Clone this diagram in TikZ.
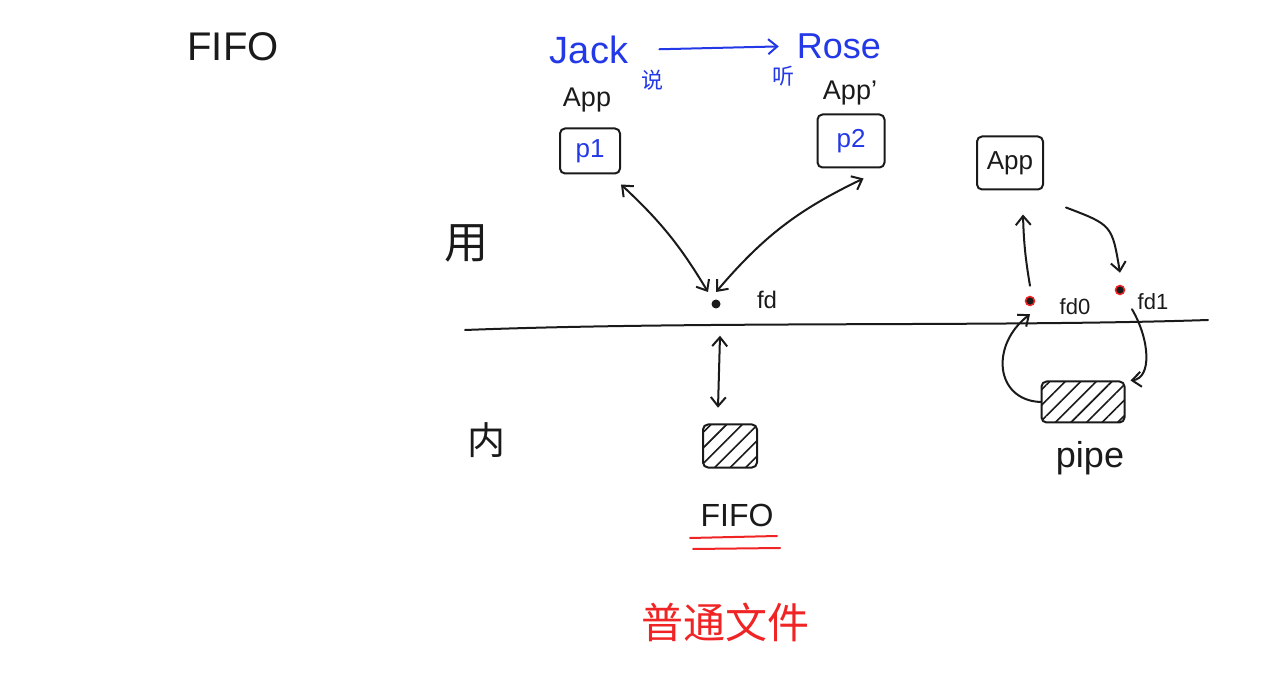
\documentclass[tikz,border=0pt]{standalone}
\usepackage{fontspec}
\setmainfont{Liberation Sans}
\newfontfamily\cjk{Noto Sans CJK SC}
\usetikzlibrary{arrows.meta,patterns.meta}
\definecolor{ink}{HTML}{1A1A1A}
\definecolor{blueink}{HTML}{2338E6}
\definecolor{redink}{HTML}{F02424}
\newcommand{\fs}[1]{\fontsize{#1}{#1}\selectfont}
\tikzset{
  stroke/.style={draw=ink, line width=2pt, line cap=round, line join=round},
  tip/.tip={Straight Barb[length=9pt,width=15pt,line width=2pt]},
  arr/.style={stroke, -tip},
  darr/.style={stroke, tip-tip},
  barr/.style={draw=blueink, line width=2pt, line cap=round, -tip},
  redline/.style={draw=redink, line width=2pt, line cap=round},
  lbl/.style={inner sep=0pt, text=ink},
  blbl/.style={inner sep=0pt, text=blueink},
  box/.style={stroke, rounded corners=5pt, inner sep=0pt},
  hatch/.style={box, pattern={Lines[angle=45,distance=11pt,line width=1.6pt]}, pattern color=ink},
  fddot/.style={circle, draw=redink, fill=ink, line width=1.5pt, minimum size=9pt, inner sep=0pt}
}
\begin{document}
\begin{tikzpicture}[x=1pt,y=-1pt]
\useasboundingbox (0,0) rectangle (1280,700);

% titles
\node[lbl, font=\fs{40}] (title) at (233,47) {FIFO};

% Jack -> Rose
\node[blbl, font=\fs{38}] (jack) at (589,50) {Jack};
\node[blbl, font=\fs{36}] (rose) at (839,46) {Rose};
\draw[barr, shorten <=31pt, shorten >=18pt] (jack.east) -- (rose.west);
\node[blbl, font=\cjk\fs{22}] (shuo) at (652,80) {说};
\node[blbl, font=\cjk\fs{22}] (ting) at (783,76) {听};

% apps
\node[lbl, font=\fs{27}] (app1) at (587,100) {App};
\node[lbl, font=\fs{27}] (app1b) at (850,93) {App'};
\node[box, minimum width=60pt, minimum height=45pt, text=blueink, font=\fs{26}] (p1) at (590,151) {p1};
\node[box, minimum width=67pt, minimum height=53pt, text=blueink, font=\fs{26}] (p2) at (851,141) {p2};

% user / kernel
\node[lbl, font=\cjk\fs{44}] (yong) at (466,243) {用};
\node[lbl, font=\cjk\fs{38}] (nei) at (486,440) {内};

% divider
\coordinate (L) at (465,330);
\coordinate (R) at (1208,320);
\draw[stroke] (L) .. controls (700,321) and (1000,327) .. (R);

% fd
\node[circle, fill=ink, minimum size=9pt, inner sep=0pt] (fd) at (716,304) {};
\node[lbl, font=\fs{24}] (fdl) at (767,300) {fd};
\draw[darr] ([shift={(0,10)}]p1.south east) to[bend left=8] ([shift={(-8,-12)}]fd.center);
\draw[darr] ([shift={(-22,10)}]p2.south east) to[bend right=12] ([shift={(0,-12)}]fd.center);

% FIFO file
\node[hatch, minimum width=54pt, minimum height=43pt] (fifo) at (730,446) {};
\draw[darr] ([shift={(-10,-88)}]fifo.north) -- ([shift={(-12,-16)}]fifo.north);
\node[lbl, font=\fs{32}] (fifol) at (737,515) {FIFO};
\draw[redline] ([shift={(-47,23)}]fifol.center) -- ([shift={(40,21)}]fifol.center);
\draw[redline] ([shift={(-44,34)}]fifol.center) -- ([shift={(43,33)}]fifol.center);
\node[inner sep=0pt, text=redink, font=\cjk\fs{42}] (putong) at (725,622) {普通文件};

% pipe side
\node[box, minimum width=66pt, minimum height=53pt, font=\fs{26}, text=ink] (app2) at (1010,163) {App};
\node[fddot] (fd0) at (1030,301) {};
\node[fddot] (fd1) at (1120,290) {};
\node[lbl, font=\fs{22}] (fd0l) at (1075,307) {fd0};
\node[lbl, font=\fs{22}] (fd1l) at (1153,302) {fd1};
\node[hatch, minimum width=83pt, minimum height=41pt] (pipe) at (1083,402) {};
\node[lbl, font=\fs{36}] (pipel) at (1090,458) {pipe};

\draw[arr] ([yshift=10pt]fd0.north) to[bend left=4] ([shift={(13,24)}]app2.south);
\draw[arr] ([shift={(22,17)}]app2.south east) .. controls (1112,225) .. ([yshift=12pt]fd1.north);
\draw[arr] (pipe.west) .. controls (995,400) and (990,345) .. ([yshift=-8pt]fd0.south);
\draw[arr] ([shift={(12,14)}]fd1.south) .. controls (1150,340) and (1152,378) .. ([shift={(5,0)}]pipe.north east);
\end{tikzpicture}
\end{document}
